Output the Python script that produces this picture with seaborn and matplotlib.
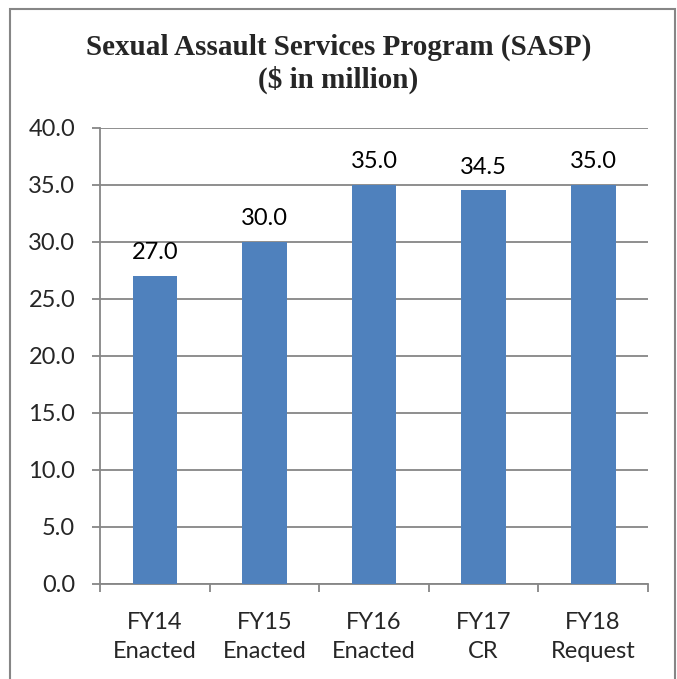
import pandas as pd
import matplotlib.pyplot as plt
import seaborn as sns
from matplotlib.patches import Rectangle


CATEGORIES = ["FY14\nEnacted", "FY15\nEnacted", "FY16\nEnacted", "FY17\nCR", "FY18\nRequest"]
VALUES = [27.0, 30.0, 35.0, 34.5, 35.0]
Y_TICKS = [0, 5, 10, 15, 20, 25, 30, 35, 40]

BAR_COLOR = "#4F81BD"
LINE_COLOR = "#868686"
LABEL_FONT = "Lato"


def main():
	sns.set_theme(style="white")
	plt.rcParams["font.family"] = [LABEL_FONT, "DejaVu Sans"]

	df = pd.DataFrame({"category": CATEGORIES, "value": VALUES})

	fig = plt.figure(figsize=(6.77, 6.79), dpi=100)
	ax = fig.add_axes([0.148, 0.140, 0.809, 0.672])

	sns.barplot(data=df, x="category", y="value", color=BAR_COLOR,
		width=0.41, saturation=1, linewidth=0, ax=ax, zorder=3)

	ax.set_ylim(0, 40)
	ax.set_xlim(-0.5, len(CATEGORIES) - 0.5)
	ax.set_yticks(Y_TICKS)
	ax.set_yticklabels([f"{v:.1f}" for v in Y_TICKS])
	ax.yaxis.grid(True, color=LINE_COLOR, linewidth=1.3, zorder=0)
	ax.set_axisbelow(True)

	# category labels on minor ticks, boundary marks on major ticks
	n = len(CATEGORIES)
	ax.set_xticks([i - 0.5 for i in range(n + 1)])
	ax.set_xticklabels([""] * (n + 1))
	ax.set_xticks(range(n), minor=True)
	ax.set_xticklabels(CATEGORIES, minor=True, fontsize=17, linespacing=1.5)
	ax.tick_params(axis="x", which="minor", length=0, pad=20)
	ax.tick_params(axis="x", which="major", length=6, width=1.3, color=LINE_COLOR, direction="out")
	ax.tick_params(axis="y", length=6, width=1.3, color=LINE_COLOR, direction="out", pad=12, labelsize=17)
	ax.xaxis.set_ticks_position("bottom")
	ax.yaxis.set_ticks_position("left")

	for side in ["top", "right"]:
		ax.spines[side].set_visible(False)
	for side in ["left", "bottom"]:
		ax.spines[side].set_color(LINE_COLOR)
		ax.spines[side].set_linewidth(1.3)

	ax.set_xlabel("")
	ax.set_ylabel("")

	for i, v in enumerate(VALUES):
		ax.annotate(f"{v:.1f}", (i, v), xytext=(0, 9), textcoords="offset points",
			ha="center", va="bottom", fontsize=17, color="black")

	fig.text(0.5, 0.931, "Sexual Assault Services Program (SASP)", ha="center", va="center",
		fontsize=21, fontweight="bold", family="Liberation Serif")
	fig.text(0.5, 0.883, "($ in million)", ha="center", va="center",
		fontsize=21, fontweight="bold", family="Liberation Serif")

	fig.patches.append(Rectangle((10 / 677, -0.05), 665 / 677, 1 - 9 / 679 + 0.05,
		transform=fig.transFigure, fill=False, edgecolor=LINE_COLOR, linewidth=1.5))

	fig.savefig("out.png", dpi=100)


if __name__ == "__main__":
	main()
